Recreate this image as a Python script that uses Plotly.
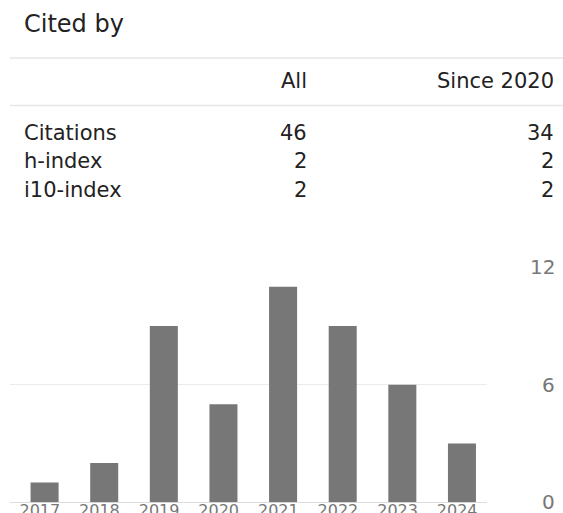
import plotly.graph_objects as go

# ---- data ----
years = ["2017", "2018", "2019", "2020", "2021", "2022", "2023", "2024"]
citations = [1, 2, 9, 5, 11, 9, 6, 3]
y_ticks = [0, 6, 12]

row_labels = ["Citations", "h-index", "i10-index"]
col_headers = ["All", "Since 2020"]
all_values = ["46", "2", "2"]
since_values = ["34", "2", "2"]

W, H = 563, 513      # target picture size
HL = 521             # layout height (fills the captured page area)
FONT = "DejaVu Sans"
TXT = "#222222"
GRAY = "#777777"
LINE = "#e6e6e6"


def px_x(x):
    return x / W


def px_y(y):
    return 1 - y / H


fig = go.Figure()
fig.add_trace(go.Bar(
    x=years, y=citations,
    marker=dict(color=GRAY, line=dict(width=0)),
    width=0.47, offset=-0.155,
    hoverinfo="x+y",
))

annotations = []
annotations.append(dict(text="Cited by", x=px_x(22), y=px_y(24), xref="paper", yref="paper",
                        xanchor="left", yanchor="middle", showarrow=False,
                        font=dict(family=FONT, size=24, color=TXT)))
col_right = [309, 556]
for h, xr in zip(col_headers, col_right):
    annotations.append(dict(text=h, x=px_x(xr), y=px_y(80), xref="paper", yref="paper",
                            xanchor="right", yanchor="middle", showarrow=False,
                            font=dict(family=FONT, size=21, color=TXT)))
row_y = [131, 159, 187]
for lab, a, s, ry in zip(row_labels, all_values, since_values, row_y):
    annotations.append(dict(text=lab, x=px_x(22), y=px_y(ry), xref="paper", yref="paper",
                            xanchor="left", yanchor="middle", showarrow=False,
                            font=dict(family=FONT, size=21, color=TXT)))
    for v, xr in zip((a, s), col_right):
        annotations.append(dict(text=v, x=px_x(xr), y=px_y(ry), xref="paper", yref="paper",
                                xanchor="right", yanchor="middle", showarrow=False,
                                font=dict(family=FONT, size=21, color=TXT)))
for t in y_ticks:
    annotations.append(dict(text=str(t), x=px_x(557), y=t, xref="paper", yref="y",
                            xanchor="right", yanchor="middle", showarrow=False,
                            font=dict(family=FONT, size=20, color=GRAY)))

shapes = []
for ly in (57, 104):
    shapes.append(dict(type="line", xref="paper", yref="paper",
                       x0=px_x(10), x1=1, y0=px_y(ly), y1=px_y(ly),
                       line=dict(color=LINE, width=1.5)))

fig.update_layout(
    width=W, height=HL,
    margin=dict(l=0, r=0, t=0, b=0),
    paper_bgcolor="white", plot_bgcolor="white",
    showlegend=False,
    annotations=annotations,
    shapes=shapes,
    xaxis=dict(domain=[px_x(10), px_x(487)], type="category",
               range=[-0.5, 7.5], showgrid=False, zeroline=False,
               showline=False, ticks="", ticklen=0,
               tickfont=dict(family=FONT, size=16, color=GRAY),
               fixedrange=True),
    yaxis=dict(domain=[px_y(494.5), px_y(263)], range=[0, 12],
               tickvals=y_ticks, showticklabels=False,
               showgrid=True, gridcolor="#ebebeb", gridwidth=1,
               zeroline=True, zerolinecolor="#dddddd", zerolinewidth=1,
               showline=False, fixedrange=True),
)
try:
    fig.update_xaxes(ticklabelstandoff=-3)
except ValueError:
    pass

post = "document.body.style.margin='0';document.body.style.overflow='hidden';"

fig.write_html("out.html", config={"displayModeBar": False}, post_script=post)
